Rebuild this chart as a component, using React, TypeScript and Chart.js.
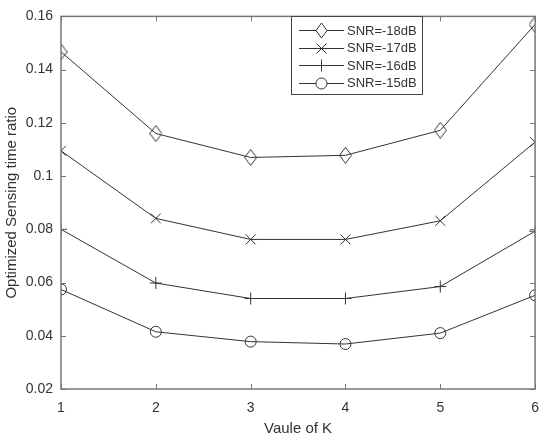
import React, { useEffect, useRef } from "react";
import { Chart, registerables } from "chart.js";

Chart.register(...registerables);

const kValues = [1, 2, 3, 4, 5, 6];
const snr18 = [0.1467, 0.116, 0.107, 0.1078, 0.1172, 0.157];
const snr17 = [0.1095, 0.0841, 0.0762, 0.0762, 0.0832, 0.1128];
const snr16 = [0.08, 0.0598, 0.054, 0.054, 0.0585, 0.0793];
const snr15 = [0.0574, 0.0415, 0.0378, 0.0369, 0.041, 0.0552];
const seriesLabels = ["SNR=-18dB", "SNR=-17dB", "SNR=-16dB", "SNR=-15dB"];
const markerNames = ["diamond", "x", "plus", "circle"];
const xTitle = "Vaule of K";
const yTitle = "Optimized Sensing time ratio";
const yMin = 0.02;
const yMax = 0.16;
const yStep = 0.02;

const FONT = "'Liberation Sans', Arial, sans-serif";
const LINE = "#333333";
const AXIS = "#777777";
const TEXT = "#333333";

function makeDiamond(): HTMLCanvasElement {
  const c = document.createElement("canvas");
  c.width = 13;
  c.height = 17;
  const ctx = c.getContext("2d")!;
  ctx.strokeStyle = LINE;
  ctx.lineWidth = 1;
  ctx.beginPath();
  ctx.moveTo(6.5, 0.5);
  ctx.lineTo(12.5, 8.5);
  ctx.lineTo(6.5, 16.5);
  ctx.lineTo(0.5, 8.5);
  ctx.closePath();
  ctx.stroke();
  return c;
}

function drawMarker(ctx: CanvasRenderingContext2D, name: string, x: number, y: number) {
  ctx.save();
  ctx.strokeStyle = LINE;
  ctx.lineWidth = 1;
  ctx.beginPath();
  if (name === "diamond") {
    ctx.fillStyle = "#fff";
    ctx.moveTo(x, y - 7.5);
    ctx.lineTo(x + 5.5, y);
    ctx.lineTo(x, y + 7.5);
    ctx.lineTo(x - 5.5, y);
    ctx.closePath();
    ctx.fill();
  } else if (name === "x") {
    ctx.moveTo(x - 5, y - 5);
    ctx.lineTo(x + 5, y + 5);
    ctx.moveTo(x + 5, y - 5);
    ctx.lineTo(x - 5, y + 5);
  } else if (name === "plus") {
    ctx.moveTo(x, y - 6);
    ctx.lineTo(x, y + 6);
  } else {
    ctx.fillStyle = "#fff";
    ctx.arc(x, y, 5.5, 0, Math.PI * 2);
    ctx.fill();
  }
  ctx.stroke();
  ctx.restore();
}

const frameAndLegend = {
  id: "frameAndLegend",
  afterDraw(chart: any) {
    const { ctx, chartArea } = chart;
    const { left, right, top, bottom } = chartArea;
    const xs = chart.scales.x;
    const ys = chart.scales.y;
    ctx.save();
    ctx.strokeStyle = AXIS;
    ctx.lineWidth = 1.5;
    ctx.strokeRect(left, top, right - left, bottom - top);
    ctx.lineWidth = 1;
    ctx.beginPath();
    const tl = 5;
    for (const k of kValues) {
      const px = Math.round(xs.getPixelForValue(k)) + 0.5;
      ctx.moveTo(px, bottom);
      ctx.lineTo(px, bottom - tl);
      ctx.moveTo(px, top);
      ctx.lineTo(px, top + tl);
    }
    for (let v = yMin; v <= yMax + 1e-9; v += yStep) {
      const py = Math.round(ys.getPixelForValue(v)) + 0.5;
      ctx.moveTo(left, py);
      ctx.lineTo(left + tl, py);
      ctx.moveTo(right, py);
      ctx.lineTo(right - tl, py);
    }
    ctx.stroke();

    // legend
    const bx = 291.5, by = 16.5, bw = 131, bh = 78;
    ctx.fillStyle = "#fff";
    ctx.fillRect(bx, by, bw, bh);
    ctx.strokeStyle = "#444";
    ctx.lineWidth = 1;
    ctx.strokeRect(bx, by, bw, bh);
    const rows = [30, 47.5, 65, 82.5];
    ctx.font = `13px ${FONT}`;
    ctx.textBaseline = "middle";
    ctx.textAlign = "left";
    chart.data.datasets.forEach((ds: any, i: number) => {
      const ry = rows[i];
      ctx.strokeStyle = LINE;
      ctx.beginPath();
      ctx.moveTo(299, Math.round(ry) + 0.5);
      ctx.lineTo(344, Math.round(ry) + 0.5);
      ctx.stroke();
      drawMarker(ctx, markerNames[i], 321.5, Math.round(ry) + 0.5);
      ctx.fillStyle = TEXT;
      ctx.fillText(ds.label, 347, ry + 1);
    });
    ctx.restore();
  },
};

export default function App() {
  const ref = useRef<HTMLCanvasElement | null>(null);
  useEffect(() => {
    if (!ref.current) return;
    const diamond = makeDiamond();
    const series = [snr18, snr17, snr16, snr15];
    const styles: any[] = [diamond, "crossRot", "cross", "circle"];
    const radii = [6, 7, 6, 5.5];
    const chart = new Chart(ref.current, {
      type: "line",
      data: {
        datasets: series.map((s, i) => ({
          label: seriesLabels[i],
          data: kValues.map((k, j) => ({ x: k, y: s[j] })),
          borderColor: LINE,
          borderWidth: 1,
          backgroundColor: "rgba(0,0,0,0)",
          pointStyle: styles[i],
          pointRadius: radii[i],
          pointBorderColor: LINE,
          pointBorderWidth: 1,
          pointBackgroundColor: "rgba(0,0,0,0)",
          tension: 0,
          fill: false,
        })),
      },
      options: {
        animation: false,
        responsive: false,
        maintainAspectRatio: false,
        layout: { padding: { top: 11, right: 14, left: 0, bottom: 0 } },
        plugins: { legend: { display: false }, tooltip: { enabled: false } },
        scales: {
          x: {
            type: "linear",
            min: 1,
            max: 6,
            grid: { display: false, drawTicks: false },
            border: { display: false },
            ticks: {
              stepSize: 1,
              padding: 11,
              color: TEXT,
              font: { family: FONT, size: 14 },
            },
            title: {
              display: true,
              text: xTitle,
              color: TEXT,
              font: { family: FONT, size: 15 },
              padding: { top: 0, bottom: 1 },
            },
            afterFit: (scale: any) => {
              scale.height = 50;
            },
          },
          y: {
            type: "linear",
            min: yMin,
            max: yMax,
            grid: { display: false, drawTicks: false },
            border: { display: false },
            ticks: {
              stepSize: yStep,
              padding: 8,
              color: TEXT,
              font: { family: FONT, size: 14 },
              callback: (v: any) => String(Number(Number(v).toFixed(2))),
            },
            title: {
              display: true,
              text: yTitle,
              color: TEXT,
              font: { family: FONT, size: 15 },
              padding: { top: 3, bottom: 0 },
            },
            afterFit: (scale: any) => {
              scale.width = 61;
            },
          },
        },
      },
      plugins: [frameAndLegend],
    });
    return () => chart.destroy();
  }, []);
  return (
    <div style={{ position: "fixed", left: 0, top: 0, width: 550, height: 439, background: "#fff" }}>
      <canvas ref={ref} width={550} height={439} style={{ display: "block" }} />
    </div>
  );
}
